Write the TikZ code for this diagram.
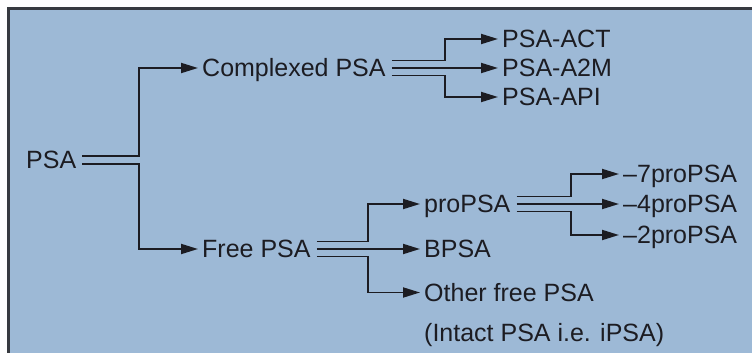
\documentclass[tikz,border=0pt]{standalone}
\usepackage{fontspec}
\setmainfont{Liberation Sans}
\usetikzlibrary{arrows.meta,calc}

\definecolor{panelblue}{RGB}{157,185,214}
\definecolor{inkdark}{RGB}{28,28,34}
\definecolor{framegray}{RGB}{55,58,64}

\tikzset{
  txt/.style={inner sep=0pt, font=\fontsize{25}{40}\selectfont, text=inkdark},
  lbl/.style={txt, anchor=west, text height=17.9pt, text depth=0pt},
  link/.style={line width=1.9pt, draw=inkdark},
  arr/.style={link, -{Triangle[length=17pt,width=10pt]}, shorten >=4pt},
}

\begin{document}
\begin{tikzpicture}[x=1pt,y=1pt]
  \useasboundingbox (0,0) rectangle (752,353);
  \clip (0,0) rectangle (752,353);

  % Panel
  \fill[panelblue] (8.5,0) rectangle (752,344.5);
  \draw[framegray, line width=3pt] (8.5,-2) -- (8.5,344.5) -- (754,344.5);

  % Labels
  \node[lbl] (psa) at (26,193) {PSA};
  \node[lbl] (cpsa) at (202,285) {Complexed PSA};
  \node[lbl] (fpsa) at (202,104) {Free PSA};
  \node[lbl] (act) at (502,314) {PSA-ACT};
  \node[lbl] (a2m) at (502,285) {PSA-A2M};
  \node[lbl] (api) at (502,256) {PSA-API};
  \node[lbl] (pro) at (424,149) {proPSA};
  \node[lbl] (bpsa) at (424,104) {BPSA};
  \node[txt, anchor=north west, align=left] (oth) at (424,69.5)
    {Other free PSA\\(Intact PSA i.e. iPSA)};
  \node[lbl] (m7) at (623,179) {\textendash7proPSA};
  \node[lbl] (m4) at (623,149) {\textendash4proPSA};
  \node[lbl] (m2) at (623,118) {\textendash2proPSA};

  % Junctions
  \coordinate (j1) at (139,0);
  \coordinate (j2) at (445,0);
  \coordinate (j3) at (368,0);
  \coordinate (j4) at (571,0);
  \coordinate (othin) at ([yshift=-9pt]oth.north west);

  % PSA
  \draw[arr] ([shift={(6pt,4.25pt)}]psa.east) -| (j1 |- cpsa.west) -- (cpsa.west);
  \draw[arr] ([shift={(6pt,-4.25pt)}]psa.east) -| (j1 |- fpsa.west) -- (fpsa.west);

  % Complexed PSA
  \draw[arr] ([shift={(6pt,7.5pt)}]cpsa.east) -| (j2 |- act.west) -- (act.west);
  \draw[arr] ([xshift=6pt]cpsa.east) -- (a2m.west);
  \draw[arr] ([shift={(6pt,-7.5pt)}]cpsa.east) -| (j2 |- api.west) -- (api.west);

  % Free PSA
  \draw[arr] ([shift={(6pt,7.5pt)}]fpsa.east) -| (j3 |- pro.west) -- (pro.west);
  \draw[arr] ([xshift=6pt]fpsa.east) -- (bpsa.west);
  \draw[arr] ([shift={(6pt,-7.5pt)}]fpsa.east) -| (j3 |- othin) -- (othin);

  % proPSA
  \draw[arr] ([shift={(6pt,7.5pt)}]pro.east) -| (j4 |- m7.west) -- (m7.west);
  \draw[arr] ([xshift=6pt]pro.east) -- (m4.west);
  \draw[arr] ([shift={(6pt,-7.5pt)}]pro.east) -| (j4 |- m2.west) -- (m2.west);

\end{tikzpicture}
\end{document}
